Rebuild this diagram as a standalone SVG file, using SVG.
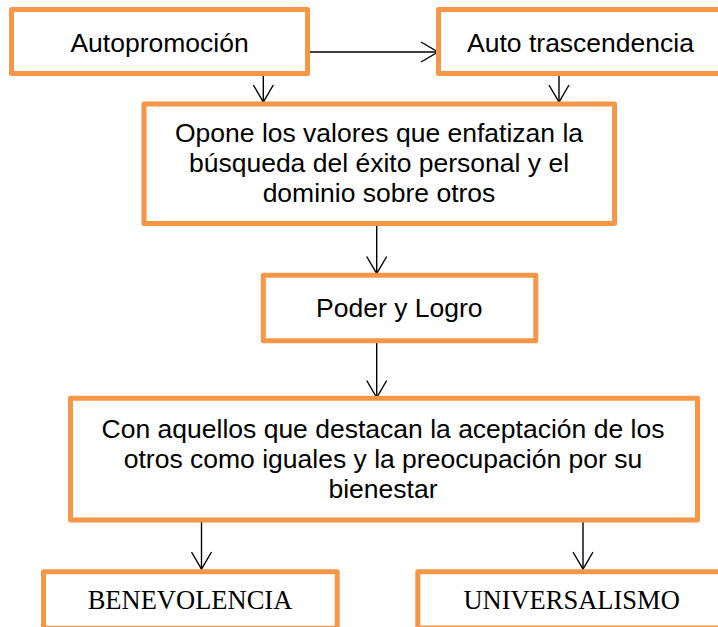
<svg xmlns="http://www.w3.org/2000/svg" width="718" height="627" viewBox="0 0 718 627">
<defs>
<style>
.box{fill:#ffffff;stroke:#F79646;stroke-width:5;stroke-linejoin:round}
.t{font-family:"Liberation Sans",Arial,sans-serif;font-size:26.5px;fill:#000;text-anchor:middle}
.s{font-family:"Liberation Serif","Times New Roman",serif;font-size:26.5px;fill:#000;text-anchor:middle}
.c{fill:none;stroke:#000;stroke-width:1.4}
</style>
<marker id="arr" markerUnits="userSpaceOnUse" markerWidth="22" markerHeight="24" refX="18" refY="11" orient="auto" viewBox="0 0 22 24" overflow="visible">
<path d="M1,1 L18,11 L1,21" fill="none" stroke="#000" stroke-width="1.4"/>
</marker>
</defs>
<rect width="718" height="627" fill="#ffffff"/>
<g id="connectors">
<path class="c" d="M310,52 H438" marker-end="url(#arr)"/>
<path class="c" d="M263.3,76 V102" marker-end="url(#arr)"/>
<path class="c" d="M559,76 V102" marker-end="url(#arr)"/>
<path class="c" d="M376.7,226 V273.5" marker-end="url(#arr)"/>
<path class="c" d="M376.7,343 V397.5" marker-end="url(#arr)"/>
<path class="c" d="M201.5,522 V569" marker-end="url(#arr)"/>
<path class="c" d="M583,522 V569" marker-end="url(#arr)"/>
</g>
<g id="autopromocion">
<rect class="box" x="11.5" y="9.5" width="296" height="64"/>
<text class="t" x="159.5" y="52">Autopromoción</text>
</g>
<g id="autotrascendencia">
<rect class="box" x="438.5" y="9.5" width="290" height="64"/>
<text class="t" x="580.5" y="52">Auto trascendencia</text>
</g>
<g id="opone">
<rect class="box" x="144" y="104" width="470.5" height="119.5"/>
<text class="t" x="379" y="142">Opone los valores que enfatizan la</text>
<text class="t" x="379" y="172">búsqueda del éxito personal y el</text>
<text class="t" x="379" y="202">dominio sobre otros</text>
</g>
<g id="poder">
<rect class="box" x="263.3" y="275.2" width="272.5" height="65.6"/>
<text class="t" x="399.3" y="316.7">Poder y Logro</text>
</g>
<g id="con">
<rect class="box" x="70.5" y="398.2" width="627" height="121.8"/>
<text class="t" x="383" y="438.3">Con aquellos que destacan la aceptación de los</text>
<text class="t" x="383" y="468.3">otros como iguales y la preocupación por su</text>
<text class="t" x="383" y="498.3">bienestar</text>
</g>
<g id="benevolencia">
<rect class="box" x="43.5" y="571.8" width="293.7" height="56.4"/>
<text class="s" x="190" y="609.3">BENEVOLENCIA</text>
</g>
<g id="universalismo">
<rect class="box" x="417.8" y="571.8" width="310" height="56.2"/>
<text class="s" x="571.6" y="609.3">UNIVERSALISMO</text>
</g>
</svg>
